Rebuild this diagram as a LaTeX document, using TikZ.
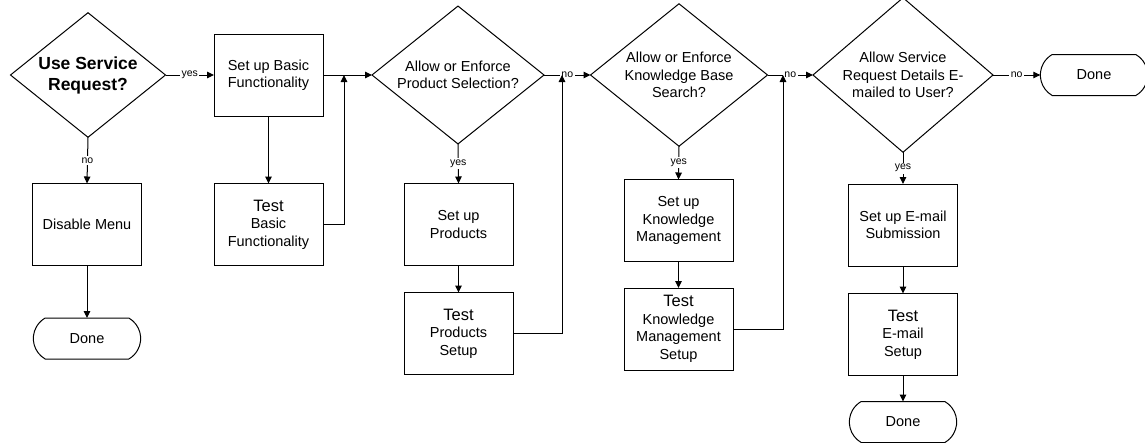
\documentclass[tikz,border=0pt]{standalone}
\usepackage{fontspec}
\setmainfont{Liberation Sans}
\usetikzlibrary{shapes.geometric,shapes.misc,arrows.meta}

% type sizes used in the chart
\newcommand\stepfont{\fontsize{14.5}{17.5}\selectfont}
\newcommand\testword{{\fontsize{16.5}{17.5}\selectfont Test}}
\newcommand\askfont{\fontsize{17.5}{21}\selectfont\bfseries}
\newcommand\tagfont{\fontsize{10.5}{12}\selectfont}

\begin{document}
\begin{tikzpicture}[x=1pt,y=-1pt,
  flow/.style={line width=1pt,-{Triangle[length=7pt,width=6.5pt]}},
  stepbox/.style={draw,line width=1pt,minimum width=109pt,minimum height=82pt,
    align=center,font=\stepfont,inner sep=2pt,outer sep=0pt},
  decision/.style={draw,diamond,line width=1pt,inner sep=-3pt,outer sep=0pt,
    align=center,font=\stepfont},
  terminal/.style={draw,rounded rectangle,rounded rectangle arc length=120,
    line width=1pt,minimum width=114pt,minimum height=41pt,font=\stepfont,outer sep=0pt},
  tag/.style={font=\tagfont,fill=white,inner sep=1.5pt}
]
\useasboundingbox (0,0) rectangle (1145,442);

% ---- decisions along the top row
\node[decision,minimum width=155pt,minimum height=116pt,font=\askfont]
  (d1) at (88,75) {Use Service\\Request?};
\node[decision,minimum width=172pt,minimum height=126pt]
  (d2) at (458,75) {Allow or Enforce\\Product Selection?};
\node[decision,minimum width=177pt,minimum height=125pt]
  (d3) at (679,75) {Allow or Enforce\\Knowledge Base\\Search?};
\node[decision,minimum width=180pt,minimum height=135pt]
  (d4) at (903,75) {Allow Service\\Request Details E-\\mailed to User?};

% ---- process steps
\node[stepbox] (sb) at (268.5,75)  {Set up Basic\\Functionality};
\node[stepbox] (tb) at (268.5,224.5) {\testword\\Basic\\Functionality};
\node[stepbox] (dm) at (87,224.5) {Disable Menu};
\node[stepbox] (sp) at (458.5,224.5) {Set up\\Products};
\node[stepbox] (tp) at (458.5,333.5) {\testword\\Products\\Setup};
\node[stepbox] (sk) at (678.5,220.5) {Set up\\Knowledge\\Management};
\node[stepbox] (tk) at (678.5,329) {\testword\\Knowledge\\Management\\Setup};
\node[stepbox] (se) at (903,225) {Set up E-mail\\Submission};
\node[stepbox] (te) at (903,334.5) {\testword\\E-mail\\Setup};

% ---- end points
\node[terminal] (done1) at (87,338.5) {Done};
\node[terminal] (done2) at (1094,75) {Done};
\node[terminal] (done3) at (903,422) {Done};

% ---- joins where the test loops come back into the main line
\coordinate (j1) at (344,75);
\coordinate (j2) at (562,75);
\coordinate (j3) at (783,75);

% ---- connectors
\draw[flow] (d1.east) -- node[tag]{yes} (sb.west);
\draw[flow] (d1.south) -- node[tag]{no} (dm.north);
\draw[flow] (dm.south) -- (done1.north);

\draw[flow] (sb.south) -- (tb.north);
\draw[flow] (sb.east) -- (d2.west);
\draw[flow] (tb.east) -| (j1);

\draw[flow] (d2.south) -- node[tag]{yes} (sp.north);
\draw[flow] (sp.south) -- (tp.north);
\draw[flow] (d2.east) -- node[tag]{no} (d3.west);
\draw[flow] (tp.east) -| (j2);

\draw[flow] (d3.south) -- node[tag]{yes} (sk.north);
\draw[flow] (sk.south) -- (tk.north);
\draw[flow] (d3.east) -- node[tag]{no} (d4.west);
\draw[flow] (tk.east) -| (j3);

\draw[flow] (d4.east) -- node[tag]{no} (done2.west);
\draw[flow] (d4.south) -- node[tag]{yes} (se.north);
\draw[flow] (se.south) -- (te.north);
\draw[flow] (te.south) -- (done3.north);
\end{tikzpicture}
\end{document}
